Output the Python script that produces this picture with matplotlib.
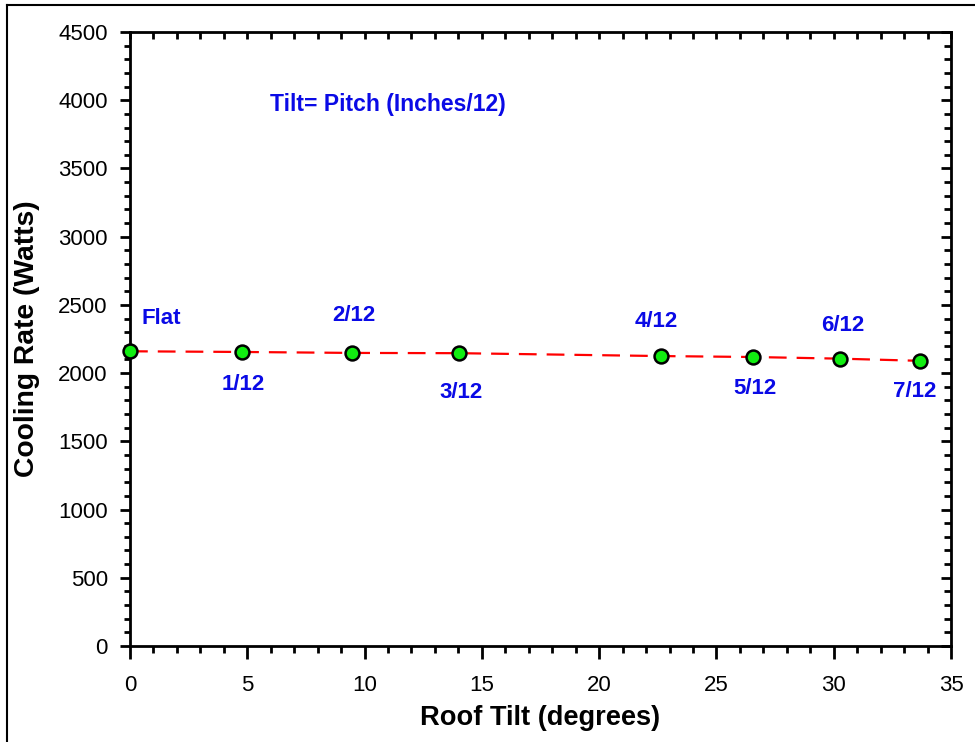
import matplotlib
matplotlib.use('Agg')
import matplotlib.pyplot as plt
from matplotlib.lines import Line2D
from matplotlib.ticker import MultipleLocator

plt.rcParams['font.family'] = ['Liberation Sans', 'DejaVu Sans']

# data
tilt_deg = [0, 4.76, 9.46, 14.04, 22.62, 26.57, 30.26, 33.69]
cooling_watts = [2160, 2155, 2148, 2146, 2125, 2118, 2106, 2090]
pitch_labels = ['Flat', '1/12', '2/12', '3/12', '4/12', '5/12', '6/12', '7/12']

# label offsets in pixels (x, y) relative to each point
label_offsets = [(31, 33), (2, -33), (2, 37), (2, -39), (-4, 35), (2, -31), (3, 33), (-6, -31)]

blue = '#0a0ae6'

fig = plt.figure(figsize=(9.75, 7.42), dpi=100)
ax = fig.add_axes([130 / 975, 96 / 742, 821 / 975, 614 / 742])

ax.plot(tilt_deg, cooling_watts, color='red', lw=1.6, dashes=(8, 4.5), zorder=2)
ax.plot(tilt_deg, cooling_watts, ls='none', marker='o', ms=10, mfc='#11ee11',
        mec='black', mew=1.8, zorder=3, clip_on=False)

for x, y, lab, off in zip(tilt_deg, cooling_watts, pitch_labels, label_offsets):
    ax.annotate(lab, (x, y), xytext=off, textcoords='offset pixels',
                ha='center', va='center', fontsize=16, fontweight='bold', color=blue)

ax.text(11.0, 3965, 'Tilt= Pitch (Inches/12)', ha='center', va='center',
        fontsize=16.5, fontweight='bold', color=blue)

ax.set_xlim(0, 35)
ax.set_ylim(0, 4500)
ax.xaxis.set_major_locator(MultipleLocator(5))
ax.xaxis.set_minor_locator(MultipleLocator(1))
ax.yaxis.set_major_locator(MultipleLocator(500))
ax.yaxis.set_minor_locator(MultipleLocator(100))

for s in ax.spines.values():
    s.set_linewidth(2)

ax.tick_params(axis='x', which='major', direction='out', length=9, width=2, pad=12, labelsize=16)
ax.tick_params(axis='x', which='minor', direction='out', length=5, width=2)
ax.tick_params(axis='y', which='major', direction='out', length=7, width=2, pad=9, labelsize=16)
ax.tick_params(axis='y', which='minor', direction='out', length=4, width=2)

# inward ticks on top and right
top = ax.secondary_xaxis('top')
top.xaxis.set_major_locator(MultipleLocator(1))
top.tick_params(direction='in', length=5, width=2, labeltop=False)
right = ax.secondary_yaxis('right')
right.yaxis.set_major_locator(MultipleLocator(500))
right.yaxis.set_minor_locator(MultipleLocator(100))
right.tick_params(which='major', direction='in', length=7, width=2, labelright=False)
right.tick_params(which='minor', direction='in', length=5, width=2)

ax.set_xlabel('Roof Tilt (degrees)', fontsize=19.6, fontweight='bold')
ax.set_ylabel('Cooling Rate (Watts)', fontsize=20.3, fontweight='bold')
ax.xaxis.label.set_va('center')
ax.yaxis.label.set_va('center')
ax.xaxis.set_label_coords(0.5, -0.117)
ax.yaxis.set_label_coords(-0.1255, 0.5)

# thin frame around the picture (left and top edges visible)
fig.add_artist(Line2D([7 / 975, 7 / 975], [0, 1 - 5 / 742], color='black', lw=1.5))
fig.add_artist(Line2D([7 / 975, 1], [1 - 5 / 742, 1 - 5 / 742], color='black', lw=1.5))

fig.savefig('out.png', dpi=100)
